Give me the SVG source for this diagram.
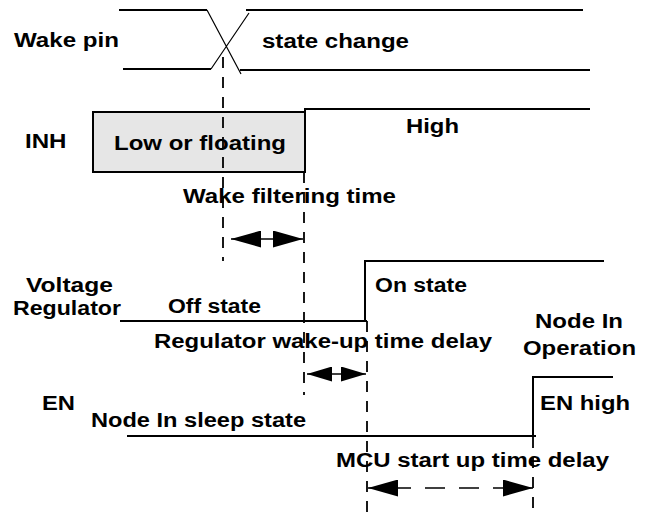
<svg xmlns="http://www.w3.org/2000/svg" width="652" height="512" viewBox="0 0 652 512">
<style>
.t{font-family:"Liberation Sans",Arial,Helvetica,sans-serif;font-weight:bold;font-size:19.5px;fill:#000}
.w{fill:none;stroke:#000;stroke-width:2}
.d{fill:none;stroke:#000;stroke-width:1.2}
.dash{fill:none;stroke:#000;stroke-width:1.8;stroke-dasharray:11 9}
.ar{fill:none;stroke:#000;stroke-width:1.6}
</style>
<defs>
<marker id="head" markerUnits="userSpaceOnUse" markerWidth="30" markerHeight="17" refX="30" refY="8.5" orient="auto-start-reverse" viewBox="0 0 30 17"><path d="M0,0 L30,8.5 L0,17 Z" fill="#000"/></marker>
<marker id="headS" markerUnits="userSpaceOnUse" markerWidth="25" markerHeight="15" refX="25" refY="7.5" orient="auto-start-reverse" viewBox="0 0 25 15"><path d="M0,0 L25,7.5 L0,15 Z" fill="#000"/></marker>
</defs>
<rect width="652" height="512" fill="#fff"/>

<g id="wake-pin">
<text class="t" x="14" y="47" textLength="105" lengthAdjust="spacingAndGlyphs">Wake pin</text>
<path class="w" d="M119,10 H207 M246,10 H583 M123,69 H211 M240,70 H590"/>
<path class="d" d="M207,10 L241,74 M249,13 L211,69"/>
<text class="t" x="262" y="48" textLength="147" lengthAdjust="spacingAndGlyphs">state change</text>
</g>

<g id="inh">
<text class="t" x="25" y="147.5" textLength="41.5" lengthAdjust="spacingAndGlyphs">INH</text>
<rect x="93" y="112" width="212" height="60" fill="#e6e6e6" stroke="#000" stroke-width="2"/>
<path class="w" d="M305,112 V109 H590"/>
<text class="t" x="114" y="150" textLength="172" lengthAdjust="spacingAndGlyphs">Low or floating</text>
<text class="t" x="406" y="133" textLength="53" lengthAdjust="spacingAndGlyphs">High</text>
</g>

<g id="regulator">
<text class="t" x="26" y="292" textLength="87" lengthAdjust="spacingAndGlyphs">Voltage</text>
<text class="t" x="13" y="315" textLength="108" lengthAdjust="spacingAndGlyphs">Regulator</text>
<path class="w" d="M120,321 H367 M365,321 V261 H604"/>
<text class="t" x="168" y="313" textLength="93" lengthAdjust="spacingAndGlyphs">Off state</text>
<text class="t" x="375" y="292" textLength="92" lengthAdjust="spacingAndGlyphs">On state</text>
</g>

<g id="en">
<text class="t" x="42" y="410" textLength="33" lengthAdjust="spacingAndGlyphs">EN</text>
<path class="w" d="M127,436 H536 M533,436 V377 H613"/>
<text class="t" x="91" y="427" textLength="215" lengthAdjust="spacingAndGlyphs">Node In sleep state</text>
<text class="t" x="540" y="410" textLength="90" lengthAdjust="spacingAndGlyphs">EN high</text>
<text class="t" x="535" y="328" textLength="88" lengthAdjust="spacingAndGlyphs">Node In</text>
<text class="t" x="523" y="355" textLength="113" lengthAdjust="spacingAndGlyphs">Operation</text>
</g>

<g id="timing">
<path class="dash" d="M223,57 V261"/>
<path class="dash" d="M304,172 V395"/>
<path class="dash" d="M367,321 V512"/>
<path class="dash" d="M533,437 V512"/>
<text class="t" x="183" y="203" textLength="213" lengthAdjust="spacingAndGlyphs">Wake filtering time</text>
<text class="t" x="154" y="348" textLength="338" lengthAdjust="spacingAndGlyphs">Regulator wake-up time delay</text>
<text class="t" x="336" y="467" textLength="273" lengthAdjust="spacingAndGlyphs">MCU start up time delay</text>
</g>

<g id="connectors">
<line class="ar" x1="231" y1="239" x2="303" y2="239" marker-start="url(#head)" marker-end="url(#head)"/>
<line class="ar" x1="307" y1="374" x2="366" y2="374" marker-start="url(#headS)" marker-end="url(#headS)"/>
<line class="ar" x1="368" y1="488" x2="533" y2="488" stroke-dasharray="20 14" stroke-dashoffset="11" marker-start="url(#head)" marker-end="url(#head)"/>
</g>
</svg>
